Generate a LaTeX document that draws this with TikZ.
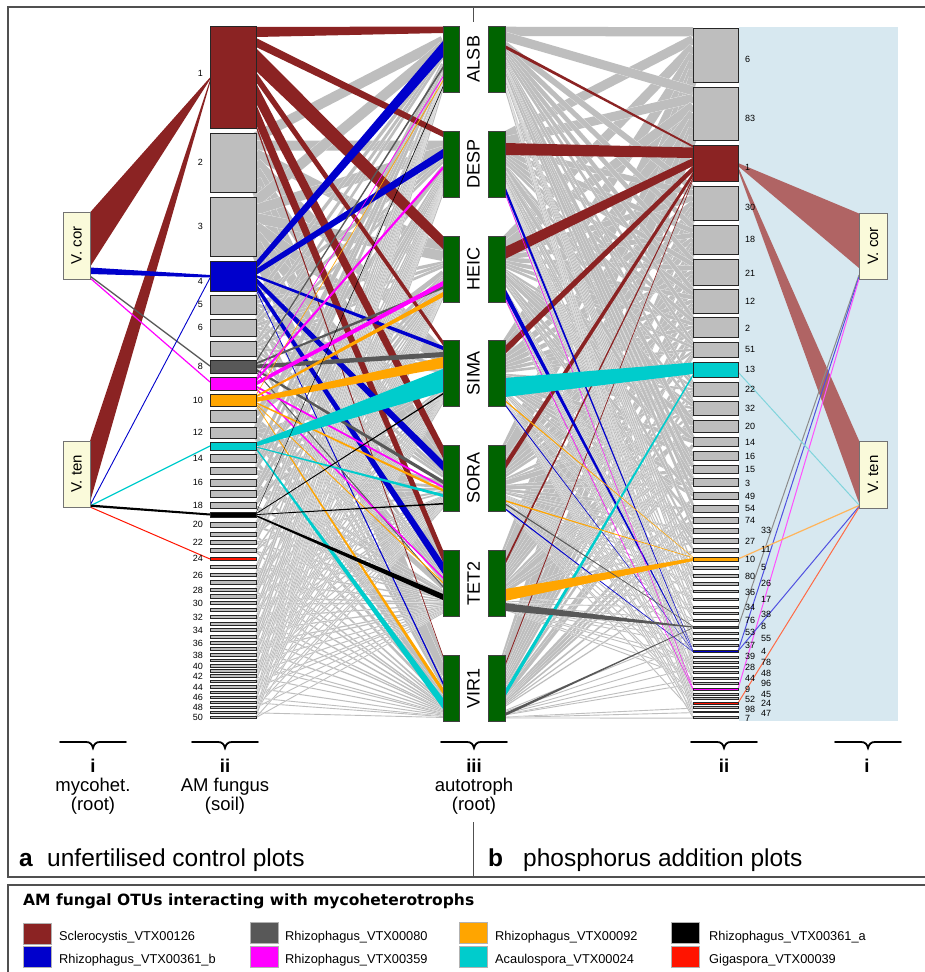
\documentclass[tikz,border=0pt]{standalone}
\usepackage{graphicx}
\usepackage{fontspec}
\setmainfont{Liberation Sans}
\newfontfamily\titlefont{DejaVu Sans}
\definecolor{scl}{RGB}{139,35,35}
\definecolor{rb}{RGB}{0,0,204}
\definecolor{dg}{RGB}{88,88,88}
\definecolor{mg}{RGB}{255,0,255}
\definecolor{og}{RGB}{255,165,0}
\definecolor{cy}{RGB}{0,204,204}
\definecolor{rd}{RGB}{255,20,0}
\definecolor{gbx}{RGB}{190,190,190}
\definecolor{lgray}{RGB}{190,190,190}
\definecolor{plantgreen}{RGB}{0,100,0}
\definecolor{mycofill}{RGB}{250,250,218}
\definecolor{bgblue}{RGB}{215,232,240}
\definecolor{wedge}{RGB}{176,100,100}
\definecolor{lgrayl}{RGB}{140,140,140}
\definecolor{lblue}{RGB}{80,80,224}
\definecolor{lmag}{RGB}{255,80,255}
\definecolor{lcy}{RGB}{128,212,220}
\definecolor{lorg}{RGB}{255,180,90}
\definecolor{lred}{RGB}{255,106,69}
\definecolor{framegray}{RGB}{80,80,80}
\pgfdeclarelayer{back}
\pgfdeclarelayer{links}
\pgfsetlayers{back,links,main}
\newcommand\lnkband[7]{\fill[#1] (#2.east |- 0,#3) -- (#5.west |- 0,#6) -- (#5.west |- 0,#7) -- (#2.east |- 0,#4) -- cycle;}
\newcommand\brc[1]{\draw[bracepath] (#1-33,742) -- (#1-7,742) .. controls (#1-3,742) and (#1-1,744) .. (#1,748) .. controls (#1+1,744) and (#1+3,742) .. (#1+7,742) -- (#1+33,742);}
\def\leftgray{2/162.5/59, 3/226.5/59, 5/304.5/19, 6/327.5/17, 7/348.5/15, 11/416/12, 12/432.5/11, 14/458/8, 15/470.5/7, 16/482.5/7, 17/493.5/7, 18/505/6, 20/524.5/5, 21/534/4, 22/542/4, 23/550.5/3.5, 25/567/3.5, 26/575/3.5, 27/582.5/3.5, 28/590/3.5, 29/596.5/3.5, 30/603/3.5, 31/610/3, 32/617/3, 33/623.5/3, 34/630/3, 35/636.5/3, 36/643/3, 37/649/3, 38/655/2.5, 39/660.5/2.5, 40/666/2.5, 41/671/2.5, 42/676/2.5, 43/681.5/2.5, 44/687/2.5, 45/692/2, 46/697/2, 47/702/2, 48/707/2, 49/712/2, 50/717/2}
\def\rightgray{6/55/54, 83/113.5/53, 30/203/34, 18/239.5/29, 21/272/26, 12/301/24, 2/327/20, 51/349.5/15, 22/389/14, 32/408/14, 20/426/12, 14/441.5/9, 16/455.5/9, 15/469/8, 3/482/8, 49/495.5/7, 54/508.5/7, 74/520/6, 33/530.5/5, 27/540.5/5, 11/550/4, 5/567.5/3, 80/575.5/3, 26/583.5/3, 36/591.2/2.5, 17/599.2/2.5, 34/607/2, 38/613/2, 76/620/2, 53/633/2, 55/639/2, 37/645/2, 39/657/2, 78/662/2, 28/667/2, 48/672/2, 44/678/2, 96/683/2, 45/694/2, 52/698/2, 98/707.5/1.5, 47/712/1.5, 7/717.5/1.5}
\begin{document}
\begin{tikzpicture}[x=1pt,y=-1pt,
  fbox/.style={draw=black!85, line width=0.7pt, inner sep=0pt, outer sep=0pt},
  plantbar/.style={draw=black!75, fill=plantgreen, line width=0.7pt, inner sep=0pt, outer sep=0pt, minimum height=66pt},
  plantlab/.style={rotate=90, font=\fontsize{18}{20}\selectfont, inner sep=0pt},
  myco/.style={draw=black!55, fill=mycofill, line width=0.8pt, inner sep=0pt, outer sep=0pt, font=\fontsize{15}{17}\selectfont},
  numlab/.style={font=\fontsize{9}{10}\selectfont, inner sep=0pt},
  glink/.style={draw=lgray},
  gedge/.style={draw=white},
  lowlab/.style={anchor=base, inner sep=0pt, font=\fontsize{18.5}{20}\selectfont},
  lowroman/.style={anchor=base, inner sep=0pt, font=\bfseries\fontsize{18.5}{20}\selectfont},
  panellab/.style={anchor=base west, inner sep=0pt, font=\fontsize{24.5}{28}\selectfont},
  legsq/.style={draw=black!30, line width=0.5pt, minimum width=28pt, minimum height=21pt, inner sep=0pt},
  legtxt/.style={anchor=west, inner sep=0pt, font=\fontsize{12.8}{14}\selectfont},
  bracepath/.style={line width=1.8pt, line cap=round},
  framel/.style={draw=framegray, line width=1.4pt}
]
\useasboundingbox (0,0) rectangle (925,972);
\begin{pgfonlayer}{back}
\fill[white] (0,0) rectangle (925,972);
\fill[bgblue] (739,27) rectangle (898,721);
\end{pgfonlayer}

% autotroph bars
\foreach \k/\c/\lab in {0/59/ALSB,1/164/DESP,2/269/HEIC,3/373/SIMA,4/478/SORA,5/583/TET2,6/688/VIR1} {
  \node[plantbar, minimum width=16pt] (PL\k) at (451,\c) {};
  \node[plantbar, minimum width=17pt] (PR\k) at (496.5,\c) {};
  \node[plantlab] (T\k) at (473.5,\c) {\lab};
}

% left fungus boxes
\foreach \n/\c/\h in \leftgray {
  \node[fbox, fill=gbx, minimum width=46pt, minimum height=\h pt] (L\n) at (233,\c) {};
}
\foreach \n/\c/\h/\col in {1/77/102/scl, 4/276/30/rb, 8/366.5/13/dg, 9/383.5/13/mg, 10/400/12/og, 13/446/8/cy, 19/514.5/5/black, 24/558.5/3/rd} {
  \node[fbox, fill=\col, minimum width=46pt, minimum height=\h pt] (L\n) at (233,\c) {};
}
% right fungus boxes
\foreach \n/\c/\h in \rightgray {
  \node[fbox, fill=gbx, minimum width=45pt, minimum height=\h pt] (R\n) at (715.5,\c) {};
}
\foreach \n/\c/\h/\col in {1/163/36/scl, 13/369.5/15/cy, 10/559/4/og, 8/627/2/dg, 4/651/2/rb, 9/689/2/mg, 24/703/2/rd} {
  \node[fbox, fill=\col, minimum width=45pt, minimum height=\h pt] (R\n) at (715.5,\c) {};
}

% mycoheterotrophs
\node[myco, minimum width=27pt, minimum height=67pt] (VCL) at (76.5,245.5) {\rotatebox{90}{V. cor}};
\node[myco, minimum width=27pt, minimum height=66pt] (VTL) at (76.5,474) {\rotatebox{90}{V. ten}};
\node[myco, minimum width=28pt, minimum height=66pt] (VCR) at (873,246) {\rotatebox{90}{V. cor}};
\node[myco, minimum width=28pt, minimum height=67pt] (VTR) at (873,474.5) {\rotatebox{90}{V. ten}};

% labels of fungus boxes
\foreach \n/\y in {1/73, 2/162.5, 3/226.5, 4/281, 5/304.5, 6/327.5, 8/366.5, 10/400, 12/432.5, 14/458, 16/482.5, 18/505, 20/524.5, 22/542, 24/558.5, 26/575, 28/590, 30/603, 32/617, 34/630, 36/643, 38/655, 40/666, 42/676, 44/687, 46/697, 48/707, 50/717} {
  \node[numlab, anchor=east] (LL\n) at (203,\y) {\n};
}
\foreach \n/\k/\y in {6/1/59, 83/1/118, 1/1/167, 30/1/207, 18/1/239, 21/1/273, 12/1/301, 2/1/328, 51/1/349, 13/1/369, 22/1/389, 32/1/408, 20/1/426, 14/1/442, 16/1/456, 15/1/469, 3/1/483, 49/1/496, 54/1/508, 74/1/520, 33/2/530, 27/1/541, 11/2/549, 10/1/559, 5/2/567, 80/1/576, 26/2/583, 36/1/592, 17/2/599, 34/1/607, 38/2/614, 76/1/620, 8/2/626, 53/1/632, 55/2/638, 37/1/645, 4/2/651, 39/1/656, 78/2/662, 28/1/667, 48/2/673, 44/1/678, 96/2/683, 9/1/689, 45/2/694, 52/1/699, 24/2/703, 98/1/709, 47/2/713, 7/1/718} {
  \node[numlab, anchor=west] (RL\n) at (729+16*\k,\y) {\n};
}

\begin{pgfonlayer}{links}
% grey links, left half
\foreach \n/\c/\h in \leftgray {
  \foreach \p in {0,...,6} {
    \pgfmathtruncatemacro\keep{(\h>=14)||(mod(\n*3+\p*5,7)<4)}
    \ifnum\keep=1
      \pgfmathsetmacro\fy{\c-\h/2+(\p+0.5)/7*\h}
      \pgfmathsetmacro\py{29+104.83*\p+(\c-26)/692*60}
      \pgfmathsetmacro\w{\h>=14 ? \h/7*1.2 : max(\h/2.5,0.9)}
      \pgfmathsetmacro\we{\w+0.35}
      \draw[gedge, line width=\we pt] (L\n.east |- 0,\fy) -- (PL\p.west |- 0,\py);
      \draw[glink, line width=\w pt] (L\n.east |- 0,\fy) -- (PL\p.west |- 0,\py);
    \fi
  }
}
% grey links, right half
\foreach \n/\c/\h in \rightgray {
  \foreach \p in {0,...,6} {
    \pgfmathtruncatemacro\keep{(\h>=14)||(mod(\n*3+\p*5,7)<4)}
    \ifnum\keep=1
      \pgfmathsetmacro\fy{\c-\h/2+(\p+0.5)/7*\h}
      \pgfmathsetmacro\py{29+104.83*\p+(\c-28)/690*60}
      \pgfmathsetmacro\w{\h>=14 ? \h/7*1.2 : max(\h/2.5,0.9)}
      \pgfmathsetmacro\we{\w+0.35}
      \draw[gedge, line width=\we pt] (PR\p.east |- 0,\py) -- (R\n.west |- 0,\fy);
      \draw[glink, line width=\w pt] (PR\p.east |- 0,\py) -- (R\n.west |- 0,\fy);
    \fi
  }
}
% coloured links, left half
\lnkband{scl}{L1}{27}{37}{PL0}{26.5}{33}
\lnkband{scl}{L1}{38}{47}{PL1}{131}{137}
\lnkband{scl}{L1}{48}{71}{PL2}{236}{249}
\lnkband{scl}{L1}{72}{82}{PL3}{340.5}{345.5}
\lnkband{scl}{L1}{83}{103}{PL4}{445}{458}
\lnkband{scl}{L1}{104}{124}{PL5}{550}{562}
\lnkband{scl}{L1}{124}{127.5}{PL6}{655}{657}
\lnkband{rb}{L4}{261.5}{269}{PL0}{41}{57}
\lnkband{rb}{L4}{269}{275}{PL1}{149}{158}
\lnkband{rb}{L4}{275}{277.5}{PL3}{346}{350}
\lnkband{rb}{L4}{277.5}{283}{PL4}{461}{471}
\lnkband{rb}{L4}{283}{289}{PL5}{562}{574}
\lnkband{rb}{L4}{289}{290.5}{PL6}{682}{685}
\lnkband{dg}{L8}{360.5}{362.5}{PL0}{66}{69}
\lnkband{dg}{L8}{362.5}{364.5}{PL2}{286}{289}
\lnkband{dg}{L8}{364.5}{368.5}{PL3}{352}{357}
\lnkband{dg}{L8}{368.5}{371}{PL4}{480}{484}
\lnkband{dg}{L8}{371}{372.5}{PL5}{586}{587.5}
\lnkband{mg}{L9}{377.5}{378.5}{PL0}{76}{77.5}
\lnkband{mg}{L9}{378.5}{381.5}{PL1}{166}{169.5}
\lnkband{mg}{L9}{381.5}{385.5}{PL2}{281}{286}
\lnkband{mg}{L9}{385.5}{387.5}{PL4}{486}{488}
\lnkband{mg}{L9}{387.5}{389.5}{PL5}{577}{579}
\lnkband{og}{L10}{394.5}{395.5}{PL0}{80}{81.5}
\lnkband{og}{L10}{395.5}{397.5}{PL2}{292}{297}
\lnkband{og}{L10}{397.5}{402}{PL3}{357}{368}
\lnkband{og}{L10}{402}{403.5}{PL4}{489}{491.5}
\lnkband{og}{L10}{403.5}{404.5}{PL5}{582}{583.5}
\lnkband{og}{L10}{404.5}{405.5}{PL6}{688}{694}
\lnkband{cy}{L13}{442.5}{446.5}{PL3}{369}{392}
\lnkband{cy}{L13}{446.5}{447.5}{PL4}{494}{497}
\lnkband{cy}{L13}{447.5}{449.5}{PL6}{698}{709}
\lnkband{black}{L19}{512.5}{513.3}{PL0}{86}{87.5}
\lnkband{black}{L19}{513.3}{514.2}{PL3}{393}{394.5}
\lnkband{black}{L19}{514.2}{515}{PL4}{503}{504.5}
\lnkband{black}{L19}{515}{516.5}{PL5}{594}{600}
% coloured links, right half
\lnkband{scl}{PR0}{45}{48.5}{R1}{145.5}{147.5}
\lnkband{scl}{PR1}{143}{155}{R1}{147.5}{158}
\lnkband{scl}{PR2}{247}{259}{R1}{158}{166}
\lnkband{scl}{PR3}{346}{354}{R1}{166}{172}
\lnkband{scl}{PR4}{462}{470}{R1}{172}{177}
\lnkband{scl}{PR5}{561}{565}{R1}{177}{179}
\lnkband{scl}{PR6}{664}{666.5}{R1}{179}{180.5}
\lnkband{rb}{PR1}{186}{192}{R4}{650}{650.7}
\lnkband{rb}{PR2}{288}{297}{R4}{650.7}{651.3}
\lnkband{rb}{PR3}{404}{405.5}{R4}{651.3}{651.6}
\lnkband{rb}{PR4}{508}{509.5}{R4}{651.6}{652}
\lnkband{mg}{PR1}{192.5}{194}{R9}{688}{689}
\lnkband{mg}{PR2}{297.5}{299}{R9}{689}{690}
\lnkband{cy}{PR3}{378}{397}{R13}{362.5}{374}
\lnkband{cy}{PR6}{690}{697}{R13}{374}{376.5}
\lnkband{og}{PR3}{400}{401.5}{R10}{557}{557.5}
\lnkband{og}{PR4}{500}{501.5}{R10}{557.5}{558}
\lnkband{og}{PR5}{589}{601}{R10}{558}{561}
\lnkband{dg}{PR4}{503}{504.5}{R8}{626}{626.5}
\lnkband{dg}{PR5}{603}{611}{R8}{626.5}{627.5}
\lnkband{dg}{PR6}{713}{716}{R8}{627.5}{628}
% links to mycoheterotrophs, left
\fill[scl] (L1.west |- 0,77.5) -- (VCL.east |- 0,212.5) -- (VCL.east |- 0,267) -- (L1.west |- 0,79.5) -- cycle;
\fill[scl] (L1.west |- 0,80) -- (VTL.east |- 0,441) -- (VTL.east |- 0,502) -- (L1.west |- 0,83) -- cycle;
\fill[rb] (VCL.east |- 0,267.5) -- (L4.west |- 0,275) -- (L4.west |- 0,277.5) -- (VCL.east |- 0,274) -- cycle;
\draw[dg, line width=1.3pt] (VCL.east |- 0,276) -- (L8.west |- 0,366);
\draw[mg, line width=1.2pt] (VCL.east |- 0,278) -- (L9.west |- 0,382);
\draw[rb, line width=0.9pt] (VTL.east |- 0,505.5) -- (L4.west |- 0,278);
\draw[cy, line width=1.2pt] (VTL.east |- 0,506) -- (L13.west |- 0,446);
\fill[black] (VTL.east |- 0,504.5) -- (L19.west |- 0,513.5) -- (L19.west |- 0,515.5) -- (VTL.east |- 0,506.8) -- cycle;
\draw[rd, line width=1pt] (VTL.east |- 0,507) -- (L24.west |- 0,559);
% links to mycoheterotrophs, right
\fill[wedge] (R1.east |- 0,163) -- (VCR.west |- 0,213.5) -- (VCR.west |- 0,268) -- (R1.east |- 0,166) -- cycle;
\fill[wedge] (R1.east |- 0,166.5) -- (VTR.west |- 0,440.5) -- (VTR.west |- 0,503) -- (R1.east |- 0,170) -- cycle;
\draw[lgrayl, line width=1pt] (VCR.west |- 0,275) -- (R8.east |- 0,627);
\draw[lblue, line width=1pt] (VCR.west |- 0,277) -- (R4.east |- 0,651);
\draw[lmag, line width=1pt] (VCR.west |- 0,279) -- (R9.east |- 0,689);
\draw[lcy, line width=1pt] (R13.east |- 0,372) -- (VTR.west |- 0,505);
\draw[lorg, line width=1.2pt] (R10.east |- 0,559) -- (VTR.west |- 0,505.5);
\draw[lblue, line width=1pt] (R4.east |- 0,651) -- (VTR.west |- 0,506.5);
\draw[lred, line width=1pt] (R24.east |- 0,703) -- (VTR.west |- 0,507.5);
\end{pgfonlayer}

% frame
\draw[framel] (8,7) rectangle (940,877);
\draw[framegray, line width=1pt] (473,7) -- (473,22);
\draw[framegray, line width=1pt] (473,822) -- (473,877);
\draw[framel] (8,885) rectangle (940,990);

% level braces and labels
\brc{93} \brc{225} \brc{474} \brc{724} \brc{868}
\node[lowroman] (ia) at (93,772) {i};
\node[lowlab] (ib) at (93,791) {mycohet.};
\node[lowlab] (ic) at (93,810) {(root)};
\node[lowroman] (iia) at (225,772) {ii};
\node[lowlab] (iib) at (225,791) {AM fungus};
\node[lowlab] (iic) at (225,810) {(soil)};
\node[lowroman] (iiia) at (474,772) {iii};
\node[lowlab] (iiib) at (474,791) {autotroph};
\node[lowlab] (iiic) at (474,810) {(root)};
\node[lowroman] (iir) at (724,772) {ii};
\node[lowroman] (ir) at (867,772) {i};
\node[panellab, font=\bfseries\fontsize{24.5}{28}\selectfont] (pa) at (19,866) {a};
\node[panellab] (ta) at (47,866) {unfertilised control plots};
\node[panellab, font=\bfseries\fontsize{24.5}{28}\selectfont] (pb) at (488,866) {b};
\node[panellab] (tb) at (523,866) {phosphorus addition plots};

% legend
\node[anchor=base west, inner sep=0pt, font=\titlefont\bfseries\fontsize{15.5}{18}\selectfont] (legt) at (23,905) {AM fungal OTUs interacting with mycoheterotrophs};
\node[legsq, fill=scl] (s1) at (37,933.5) {};
\node[legtxt] (t1) at (59,937) {Sclerocystis\_VTX00126};
\node[legsq, fill=rb] (s2) at (37,957) {};
\node[legtxt] (t2) at (59,960) {Rhizophagus\_VTX00361\_b};
\node[legsq, fill=dg] (s3) at (264,932.5) {};
\node[legtxt] (t3) at (285,937) {Rhizophagus\_VTX00080};
\node[legsq, fill=mg] (s4) at (264,956.5) {};
\node[legtxt] (t4) at (285,960) {Rhizophagus\_VTX00359};
\node[legsq, fill=og] (s5) at (473,932.5) {};
\node[legtxt] (t5) at (495,937) {Rhizophagus\_VTX00092};
\node[legsq, fill=cy] (s6) at (473,956.5) {};
\node[legtxt] (t6) at (495,960) {Acaulospora\_VTX00024};
\node[legsq, fill=black] (s7) at (685,932.5) {};
\node[legtxt] (t7) at (709,937) {Rhizophagus\_VTX00361\_a};
\node[legsq, fill=rd] (s8) at (685,956.5) {};
\node[legtxt] (t8) at (709,960) {Gigaspora\_VTX00039};
\end{tikzpicture}
\end{document}
